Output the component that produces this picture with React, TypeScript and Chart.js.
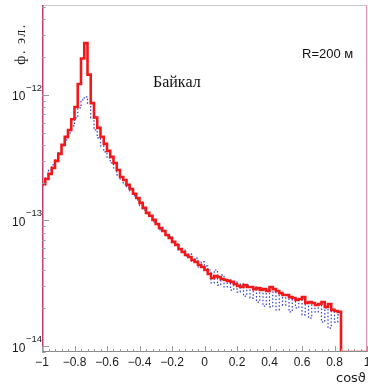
import React, { useEffect, useRef } from "react";
import { Chart, registerables } from "chart.js";

Chart.register(...registerables);

// Histogram binning (x = cos θ)
const BIN_START = -1;
const BIN_WIDTH = 0.02;
const X_MIN = -1;
const X_MAX = 1;
const Y_MIN = 8.96e-15;
const Y_MAX = 5.2e-12;

// Red histogram (Байкал, R=200 м) – bin contents, 0 = empty bin
const RED_VALUES = [
  1.95e-13, 2.14e-13, 2.35e-13, 2.62e-13, 2.98e-13, 3.39e-13, 4.0e-13, 4.63e-13, 5.26e-13, 6.4e-13,
  8.0e-13, 1.22e-12, 1.95e-12, 2.59e-12, 1.45e-12, 8.6e-13, 6.6e-13, 5.46e-13, 4.63e-13, 4.07e-13,
  3.58e-13, 3.21e-13, 2.87e-13, 2.52e-13, 2.22e-13, 2.1e-13, 1.92e-13, 1.78e-13, 1.63e-13, 1.51e-13,
  1.38e-13, 1.26e-13, 1.15e-13, 1.09e-13, 1.01e-13, 9.38e-14, 8.71e-14, 8.24e-14, 7.66e-14, 7.26e-14,
  6.75e-14, 6.38e-14, 5.93e-14, 5.61e-14, 5.31e-14, 5.12e-14, 4.84e-14, 4.67e-14, 4.42e-14, 4.26e-14,
  4.03e-14, 3.75e-14, 3.48e-14, 3.61e-14, 3.55e-14, 3.42e-14, 3.36e-14, 3.3e-14, 3.24e-14, 3.12e-14,
  3.01e-14, 2.95e-14, 3.06e-14, 2.95e-14, 2.95e-14, 2.84e-14, 2.9e-14, 2.79e-14, 2.84e-14, 2.74e-14,
  2.95e-14, 2.84e-14, 2.74e-14, 2.64e-14, 2.55e-14, 2.55e-14, 2.45e-14, 2.41e-14, 2.33e-14, 2.37e-14,
  2.45e-14, 2.2e-14, 2.24e-14, 2.2e-14, 2.12e-14, 2.16e-14, 2.24e-14, 2.05e-14, 2.16e-14, 1.94e-14,
  1.9e-14, 1.87e-14, 0, 0, 0, 0, 0, 0, 0, 0,
];

// Blue dotted histogram – bin contents
const BLUE_VALUES = [
  1.88e-13, 2.18e-13, 2.52e-13, 2.77e-13, 3.03e-13, 3.45e-13, 3.92e-13, 4.38e-13, 4.98e-13, 5.66e-13,
  6.56e-13, 7.87e-13, 9.12e-13, 9.64e-13, 8.6e-13, 6.56e-13, 5.26e-13, 4.54e-13, 3.92e-13, 3.52e-13,
  3.15e-13, 2.87e-13, 2.62e-13, 2.31e-13, 2.14e-13, 1.95e-13, 1.82e-13, 1.72e-13, 1.57e-13, 1.46e-13,
  1.31e-13, 1.21e-13, 1.13e-13, 1.07e-13, 9.73e-14, 9.21e-14, 8.4e-14, 8.09e-14, 7.52e-14, 7.39e-14,
  6.62e-14, 6.5e-14, 5.82e-14, 5.82e-14, 5.21e-14, 5.41e-14, 4.67e-14, 5.02e-14, 4.26e-14, 4.67e-14,
  4.34e-14, 4.03e-14, 3.18e-14, 4.03e-14, 3.06e-14, 3.68e-14, 2.95e-14, 3.36e-14, 2.79e-14, 3.24e-14,
  2.69e-14, 3.12e-14, 2.5e-14, 3.06e-14, 2.41e-14, 2.95e-14, 2.24e-14, 2.9e-14, 2.08e-14, 2.79e-14,
  2.05e-14, 2.69e-14, 1.94e-14, 2.64e-14, 2.12e-14, 2.55e-14, 1.87e-14, 2.45e-14, 2.01e-14, 2.33e-14,
  1.77e-14, 2.24e-14, 1.67e-14, 2.2e-14, 1.87e-14, 2.12e-14, 1.55e-14, 2.01e-14, 1.39e-14, 1.94e-14,
  1.55e-14, 1.77e-14, 0, 0, 0, 0, 0, 0, 0, 0,
];

const X_TICKS = [-1, -0.8, -0.6, -0.4, -0.2, 0, 0.2, 0.4, 0.6, 0.8, 1];
const Y_DECADES = [1e-14, 1e-13, 1e-12];
const Y_DECADE_EXPONENTS = ["\u221214", "\u221213", "\u221212"];

const Y_LABEL = "ф. эл.";
const INSIDE_LABEL = "Байкал";
const R_LABEL = "R=200 м";
const X_LABEL = "cosϑ";

function toSteps(values: number[]) {
  const pts = values.map((v, i) => ({
    x: BIN_START + i * BIN_WIDTH,
    y: v > 0 ? v : Y_MIN,
  }));
  const last = values[values.length - 1];
  pts.push({ x: BIN_START + values.length * BIN_WIDTH, y: last > 0 ? last : Y_MIN });
  return pts;
}

const decorPlugin = {
  id: "decor",
  afterDraw(chart: any) {
    const { ctx, chartArea: a, scales } = chart;
    const xs = scales.x;
    const ys = scales.y;
    ctx.save();

    // frame
    ctx.lineWidth = 1;
    ctx.strokeStyle = "#c8c8c8";
    ctx.beginPath();
    ctx.moveTo(a.left, a.top + 0.5);
    ctx.lineTo(a.right, a.top + 0.5);
    ctx.stroke();
    ctx.strokeStyle = "#e890b0";
    ctx.beginPath();
    ctx.moveTo(a.right - 0.5, a.top);
    ctx.lineTo(a.right - 0.5, a.bottom);
    ctx.stroke();
    ctx.strokeStyle = "#8a8a8a";
    ctx.beginPath();
    ctx.moveTo(a.left, a.bottom - 0.5);
    ctx.lineTo(a.right, a.bottom - 0.5);
    ctx.stroke();
    ctx.lineWidth = 1.5;
    ctx.strokeStyle = "#c83a68";
    ctx.beginPath();
    ctx.moveTo(a.left + 0.75, a.top);
    ctx.lineTo(a.left + 0.75, a.bottom);
    ctx.stroke();

    // x ticks (inside)
    ctx.lineWidth = 1;
    ctx.strokeStyle = "#9a9a9a";
    ctx.beginPath();
    for (let k = 0; k <= 50; k++) {
      const v = -1 + k * 0.04;
      const px = Math.round(xs.getPixelForValue(v)) + 0.5;
      const major = k % 5 === 0;
      ctx.moveTo(px, a.bottom);
      ctx.lineTo(px, a.bottom - (major ? 6 : 3));
    }
    ctx.stroke();

    // y ticks (inside)
    ctx.beginPath();
    for (let e = -15; e <= -12; e++) {
      for (let m = 1; m <= 9; m++) {
        const v = m * Math.pow(10, e);
        if (v < Y_MIN || v > Y_MAX) continue;
        const py = Math.round(ys.getPixelForValue(v)) + 0.5;
        ctx.moveTo(a.left, py);
        ctx.lineTo(a.left + (m === 1 ? 7 : 3.5), py);
      }
    }
    ctx.stroke();

    // y decade labels
    ctx.fillStyle = "#1a1a1a";
    ctx.textBaseline = "alphabetic";
    Y_DECADES.forEach((v, i) => {
      const py = ys.getPixelForValue(v);
      ctx.font = "12px 'Liberation Sans', Arial, sans-serif";
      ctx.textAlign = "left";
      ctx.fillText("10", 12, py + 5.5);
      ctx.font = "9.5px 'Liberation Sans', Arial, sans-serif";
      ctx.fillText(Y_DECADE_EXPONENTS[i], 26, py - 4);
    });

    // y-axis title (rotated)
    ctx.save();
    ctx.translate(25, 44);
    ctx.rotate(-Math.PI / 2);
    ctx.font = "14px 'Liberation Serif', 'DejaVu Serif', serif";
    (ctx as any).letterSpacing = "1.5px";
    ctx.textAlign = "center";
    ctx.fillStyle = "#1a1a1a";
    ctx.fillText(Y_LABEL, 0, 0);
    ctx.restore();

    // inside labels
    ctx.fillStyle = "#111";
    ctx.textAlign = "left";
    ctx.font = "16px 'Liberation Serif', 'DejaVu Serif', serif";
    ctx.fillText(INSIDE_LABEL, 153, 87);
    ctx.font = "13px 'Liberation Sans', Arial, sans-serif";
    ctx.fillText(R_LABEL, 302, 58);

    // x-axis title
    ctx.font = "13px 'DejaVu Sans', 'Liberation Sans', sans-serif";
    ctx.fillStyle = "#1a1a1a";
    ctx.fillText(X_LABEL, 336, 382);

    ctx.restore();
  },
};

export default function App() {
  const ref = useRef<HTMLCanvasElement | null>(null);

  useEffect(() => {
    if (!ref.current) return;
    const chart = new Chart(ref.current, {
      type: "line",
      data: {
        datasets: [
          {
            label: "red",
            data: toSteps(RED_VALUES),
            borderColor: "#f01818",
            borderWidth: 2.6,
            stepped: true,
            pointRadius: 0,
            fill: false,
          },
          {
            label: "blue",
            data: toSteps(BLUE_VALUES),
            borderColor: "#2f3fc8",
            borderWidth: 1.2,
            borderDash: [1.5, 2],
            stepped: true,
            pointRadius: 0,
            fill: false,
          },
        ],
      },
      options: {
        animation: false,
        responsive: false,
        devicePixelRatio: 1,
        layout: { padding: { top: 5, right: 1, left: 0, bottom: 0 } },
        plugins: { legend: { display: false }, tooltip: { enabled: false } },
        scales: {
          x: {
            type: "linear",
            min: X_MIN,
            max: X_MAX,
            afterBuildTicks: (s: any) => {
              s.ticks = X_TICKS.map((v) => ({ value: v }));
            },
            grid: { display: false, drawTicks: false },
            border: { display: false },
            ticks: {
              padding: 3,
              maxRotation: 0,
              autoSkip: false,
              color: "#1a1a1a",
              font: { family: "'Liberation Sans', Arial, sans-serif", size: 12 },
              callback: (v: any) => {
                const n = Math.round(Number(v) * 10) / 10;
                if (n === 0) return "0";
                return (n < 0 ? "\u2212" : "") + String(Math.abs(n));
              },
            },
            afterFit: (s: any) => {
              s.height = 32;
              s.paddingLeft = 0;
              s.paddingRight = 0;
            },
          },
          y: {
            type: "logarithmic",
            min: Y_MIN,
            max: Y_MAX,
            grid: { display: false, drawTicks: false },
            border: { display: false },
            ticks: { display: false },
            afterFit: (s: any) => {
              s.width = 42;
              s.paddingTop = 0;
              s.paddingBottom = 0;
            },
          },
        },
      },
      plugins: [decorPlugin],
    });
    return () => chart.destroy();
  }, []);

  return (
    <div style={{ position: "absolute", left: 0, top: 0, width: 368, height: 384, background: "#fff" }}>
      <canvas ref={ref} width={368} height={384} style={{ display: "block", width: 368, height: 384 }} />
    </div>
  );
}
